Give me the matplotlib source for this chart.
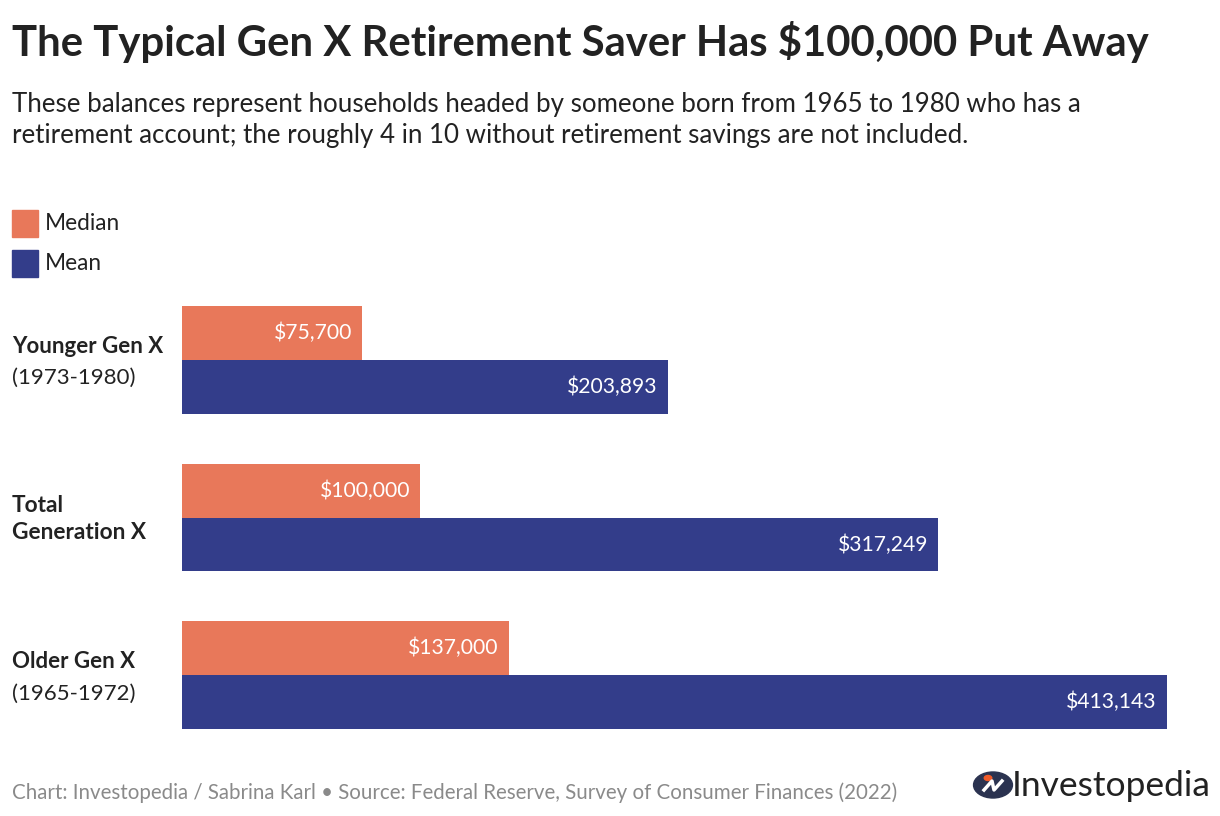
import matplotlib
matplotlib.use("Agg")
import matplotlib.pyplot as plt
from matplotlib.patches import Rectangle, Circle

# data
groups = ["Younger Gen X", "Total\nGeneration X", "Older Gen X"]
group_notes = ["(1973-1980)", "", "(1965-1972)"]
median_vals = [75700, 100000, 137000]
mean_vals = [203893, 317249, 413143]
series_names = ["Median", "Mean"]

orange = "#E8785A"
navy = "#333D8A"
dark = "#222222"

W, H = 1220, 816
plt.rcParams["font.family"] = ["Lato", "DejaVu Sans"]
fig = plt.figure(figsize=(W / 100, H / 100), dpi=100)


def fx(x):
    return x / W


def fy(y):
    return 1 - y / H


# title block
fig.text(fx(12), fy(42), "The Typical Gen X Retirement Saver Has $100,000 Put Away",
         fontsize=30.2, fontweight="bold", color=dark, va="center")
fig.text(fx(12), fy(120),
         "These balances represent households headed by someone born from 1965 to 1980 who has a\n"
         "retirement account; the roughly 4 in 10 without retirement savings are not included.",
         fontsize=18.6, color=dark, va="center", linespacing=1.3)

# legend
for i, (name, col) in enumerate(zip(series_names, [orange, navy])):
    top = 210 + i * 40
    fig.patches.append(Rectangle((fx(12), fy(top + 27)), fx(26), 27 / H,
                                 transform=fig.transFigure, color=col))
    fig.text(fx(45), fy(top + 14), name, fontsize=16.3, color=dark, va="center")

# bars
ax = fig.add_axes([fx(182), fy(729), fx(985), 423 / H])
h = 0.342
ys = list(range(len(groups)))
ax.barh([y - h / 2 for y in ys], median_vals, height=h, color=orange)
ax.barh([y + h / 2 for y in ys], mean_vals, height=h, color=navy)
ax.set_xlim(0, max(mean_vals))
ax.set_ylim(len(groups) - 1 + h, -h)
ax.axis("off")

for y, m, a in zip(ys, median_vals, mean_vals):
    ax.annotate(f"${m:,}", (m, y - h / 2), xytext=(-7.5, 0), textcoords="offset points",
                ha="right", va="center", color="white", fontsize=15.2)
    ax.annotate(f"${a:,}", (a, y + h / 2), xytext=(-7.5, 0), textcoords="offset points",
                ha="right", va="center", color="white", fontsize=15.2)

# category labels
for y, g, note in zip(ys, groups, group_notes):
    cy = 360 + y * 158
    if note:
        fig.text(fx(12), fy(cy - 14), g, fontsize=16, fontweight="bold", color=dark, va="center")
        fig.text(fx(12), fy(cy + 18), note, fontsize=16, color=dark, va="center")
    else:
        fig.text(fx(12), fy(cy + 1), g, fontsize=16.3, fontweight="bold", color=dark, va="center",
                 linespacing=1.35)

# footer
fig.text(fx(12), fy(793),
         "Chart: Investopedia / Sabrina Karl \u2022 Source: Federal Reserve, Survey of Consumer Finances (2022)",
         fontsize=14.8, color="#8a8a8a", va="center")

# logo
fig.patches.append(Circle((fx(993), fy(785)), 13 / H, transform=fig.transFigure, color="#2B3350"))
fig.lines.append(plt.Line2D([fx(984), fx(992), fx(994), fx(1002)],
                            [fy(790), fy(781), fy(790), fy(781)],
                            transform=fig.transFigure, color="white", lw=2.5))
fig.patches.append(Circle((fx(988), fy(778)), 2.5 / H, transform=fig.transFigure, color="#F05A28"))
fig.text(fx(1012), fy(786), "Investopedia", fontsize=25.5, color=dark, va="center")

fig.savefig("out.png", dpi=100)
